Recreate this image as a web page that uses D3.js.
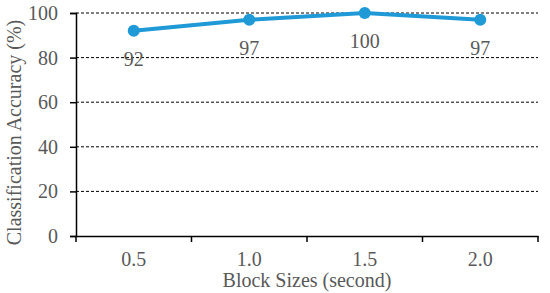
<!DOCTYPE html>
<html><head><meta charset="utf-8">
<script src="https://cdn.jsdelivr.net/npm/d3@7"></script>
<style>body{margin:0;background:#fff}svg{display:block}</style>
</head><body>
<script>
const categories = ["0.5", "1.0", "1.5", "2.0"];
const accuracy = [92, 97, 100, 97];
const yTicks = [0, 20, 40, 60, 80, 100];

const W = 550, H = 293;
const m = {left: 76, right: 12, top: 13, bottom: 57};
const svg = d3.select("body").append("svg").attr("width", W).attr("height", H);
const x = d3.scaleBand().domain(categories).range([m.left, W - m.right]);
const y = d3.scaleLinear().domain([0, 100]).range([H - m.bottom, m.top]);
const font = "'Liberation Serif','Times New Roman',serif";
const grey = "#595959";
const fs = 20;

// gridlines
svg.append("g").selectAll("line").data(yTicks.filter(d => d > 0)).join("line")
  .attr("x1", m.left).attr("x2", W - m.right)
  .attr("y1", d => y(d)).attr("y2", d => y(d))
  .attr("stroke", "#000").attr("stroke-width", 1).attr("stroke-dasharray", "3,2");

// y axis
const ya = svg.append("g").attr("transform", `translate(${m.left},0)`)
  .call(d3.axisLeft(y).tickValues(yTicks).tickSize(6).tickPadding(12));
ya.select(".domain").attr("stroke", "#000").attr("stroke-width", 1.5);
ya.selectAll(".tick line").attr("stroke", "#000").attr("stroke-width", 1.5);
ya.selectAll("text").attr("font-family", font).attr("font-size", fs).attr("fill", grey);

// x axis
const xa = svg.append("g").attr("transform", `translate(0,${y(0)})`)
  .call(d3.axisBottom(x).tickSize(0));
xa.select(".domain").attr("stroke", "#000").attr("stroke-width", 1.5);
xa.selectAll("text").attr("font-family", font).attr("font-size", fs).attr("fill", grey)
  .attr("y", 30).attr("dy", 0);
// boundary ticks
const bounds = categories.map(c => x(c)).concat([x(categories[categories.length-1]) + x.bandwidth()]);
svg.append("g").selectAll("line").data(bounds).join("line")
  .attr("x1", d => d).attr("x2", d => d)
  .attr("y1", y(0)).attr("y2", y(0) + 6)
  .attr("stroke", "#000").attr("stroke-width", 1.5);

// line
const cx = c => x(c) + x.bandwidth() / 2;
const pts = categories.map((c, i) => [cx(c), y(accuracy[i])]);
svg.append("path").attr("d", d3.line()(pts))
  .attr("fill", "none").attr("stroke", "#1f9ad6").attr("stroke-width", 4);
svg.append("g").selectAll("circle").data(pts).join("circle")
  .attr("cx", d => d[0]).attr("cy", d => d[1]).attr("r", 6).attr("fill", "#1f9ad6");

// data labels
svg.append("g").selectAll("text").data(pts).join("text")
  .attr("x", d => d[0]).attr("y", d => d[1] + 35)
  .attr("text-anchor", "middle").attr("font-family", font).attr("font-size", fs).attr("fill", grey)
  .text((d, i) => accuracy[i]);

// titles
svg.append("text").attr("x", (m.left + W - m.right) / 2).attr("y", 287)
  .attr("text-anchor", "middle").attr("font-family", font).attr("font-size", fs).attr("fill", grey)
  .text("Block Sizes (second)");
svg.append("text").attr("transform", `translate(21,${(m.top + y(0)) / 2 + 8}) rotate(-90)`)
  .attr("text-anchor", "middle").attr("font-family", font).attr("font-size", fs).attr("fill", grey)
  .text("Classification Accuracy (%)");
</script>
</body></html>
